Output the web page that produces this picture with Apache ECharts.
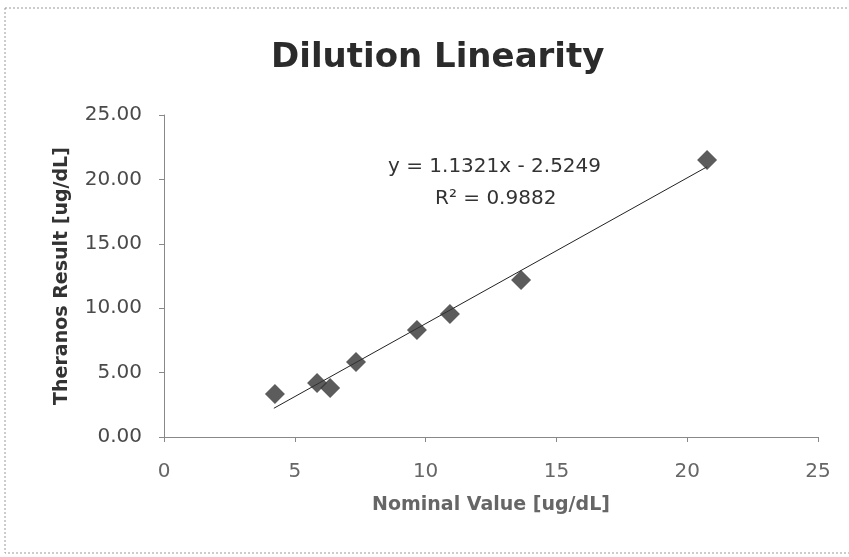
<!DOCTYPE html>
<html>
<head>
<meta charset="utf-8">
<script src="https://cdn.jsdelivr.net/npm/echarts@6/dist/echarts.min.js"></script>
<style>
  html, body { margin: 0; padding: 0; background: #fff; }
  #chart { width: 849px; height: 557px; }
</style>
</head>
<body>
<div id="chart"></div>
<script>
// measured points (nominal, theranos result)
const nominal = [4.24, 5.85, 6.35, 7.34, 9.67, 10.93, 13.65, 20.76]
const theranos = [3.34, 4.19, 3.80, 5.82, 8.31, 9.55, 12.19, 21.50]
// linear trendline endpoints, as drawn
const trendX = [4.2, 20.76]
const trendY = [2.23, 20.98]
const equationText = 'y = 1.1321x - 2.5249'
const r2Text = 'R² = 0.9882'

const font = '"DejaVu Sans", sans-serif'
const mychart = echarts.init(document.getElementById('chart'))

mychart.setOption({
  backgroundColor: '#fff',
  animation: false,
  textStyle: { fontFamily: font },
  title: {
    text: 'Dilution Linearity',
    left: 266,
    top: 36,
    textStyle: {
      fontFamily: font,
      fontSize: 34,
      fontWeight: 'bold',
      color: '#2b2b2b'
    }
  },
  grid: {
    left: 164,
    right: 31,
    top: 115,
    bottom: 120
  },
  xAxis: {
    type: 'value',
    min: 0,
    max: 25,
    interval: 5,
    name: 'Nominal Value [ug/dL]',
    nameLocation: 'middle',
    nameGap: 59,
    nameTextStyle: { fontSize: 19, fontWeight: 'bold', color: '#666' },
    splitLine: { show: false },
    axisLine: { lineStyle: { color: '#888', width: 1 } },
    axisTick: { length: 5, lineStyle: { color: '#888' } },
    axisLabel: { fontSize: 20, color: '#666', margin: 25 }
  },
  yAxis: {
    type: 'value',
    min: 0,
    max: 25,
    interval: 5,
    name: 'Theranos Result [ug/dL]',
    nameLocation: 'middle',
    nameGap: 92,
    nameTextStyle: { fontSize: 19, fontWeight: 'bold', color: '#333' },
    splitLine: { show: false },
    axisLine: { show: true, lineStyle: { color: '#888', width: 1 } },
    axisTick: { show: true, length: 5, lineStyle: { color: '#888' } },
    axisLabel: {
      fontSize: 20,
      color: '#4a4a4a',
      margin: 22,
      formatter: v => v.toFixed(2)
    }
  },
  graphic: [
    {
      type: 'rect',
      shape: { x: 5, y: 8, width: 900, height: 545 },
      style: { fill: 'none', stroke: '#999', lineWidth: 1, lineDash: [2, 2] },
      silent: true
    },
    {
      type: 'text',
      style: {
        x: 388, y: 167, text: equationText, fontFamily: font, fontSize: 20,
        fill: '#333', align: 'left', verticalAlign: 'middle'
      }
    },
    {
      type: 'text',
      style: {
        x: 435, y: 199, text: r2Text, fontFamily: font, fontSize: 20,
        fill: '#333', align: 'left', verticalAlign: 'middle'
      }
    }
  ],
  series: [
    {
      type: 'line',
      data: trendX.map((x, i) => [x, trendY[i]]),
      showSymbol: false,
      lineStyle: { color: '#222', width: 1 },
      z: 1
    },
    {
      type: 'scatter',
      data: nominal.map((x, i) => [x, theranos[i]]),
      symbol: 'diamond',
      symbolSize: 20,
      itemStyle: { color: '#333' },
      z: 2
    }
  ]
})
</script>
</body>
</html>
